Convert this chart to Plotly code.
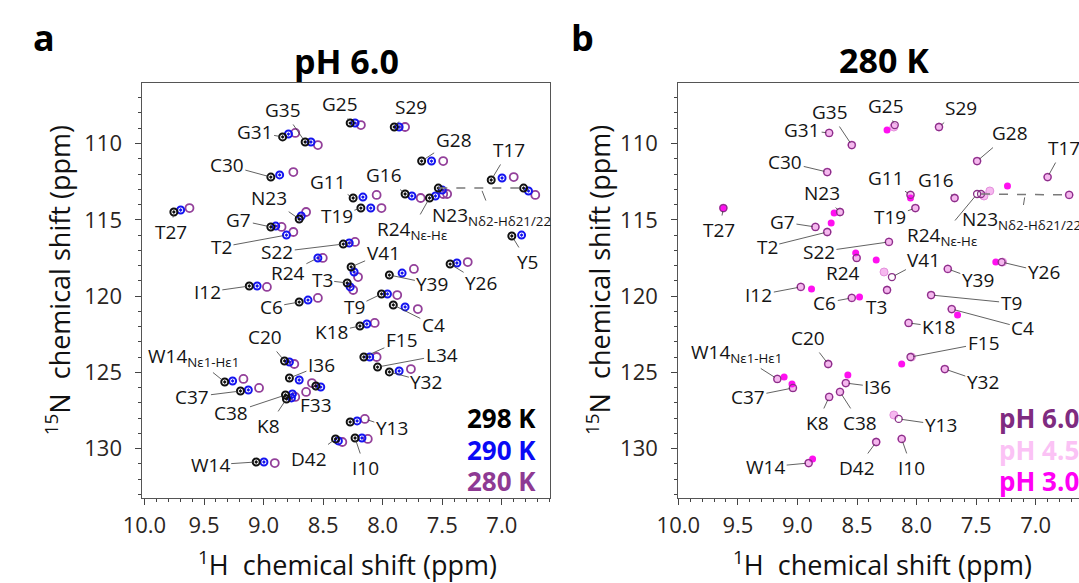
import plotly.graph_objects as go

W, H = 1079, 583

# ---- peak assignments (1H ppm, 15N ppm) ----
residues = ["T2", "T3", "C4", "Y5", "C6", "G7", "K8", "T9", "I10", "G11",
            "I12", "Y13", "W14", "W14e", "F15", "G16", "T17", "K18", "T19", "C20",
            "S22", "N23", "N23d1", "N23d2", "R24", "R24e", "G25", "Y26", "T27", "G28",
            "S29", "C30", "G31", "Y32", "F33", "L34", "G35", "I36", "C37", "C38",
            "Y39", "V41", "D42"]

# pH 6.0, 298 K
h_298 = [None, 8.298, 7.911, 6.916, 8.701, 8.939, 8.808, 8.010, 8.232, 8.248,
         9.120, 8.273, 9.062, 9.326, 8.158, 7.812, 7.089, 8.191, 8.183, 8.824,
         8.331, 8.701, 7.533, 6.817, None, 7.607, 8.273, 7.434, 9.753, 7.673,
         7.903, 8.939, 8.840, 7.944, 8.561, 8.043, 8.651, 8.783, 9.194, 8.816,
         7.944, 8.265, 8.396]
n_298 = [None, 119.14, 120.58, 116.06, 120.39, 115.47, 126.74, 119.86, 129.30, 113.57,
         119.34, 128.25, 130.87, 125.63, 123.99, 113.31, 112.39, 121.96, 114.23, 124.25,
         116.59, 114.95, 112.92, 112.92, None, 113.57, 108.66, 117.90, 114.49, 111.15,
         108.92, 112.20, 109.57, 124.97, 125.89, 124.65, 109.90, 125.37, 126.22, 126.48,
         118.62, 118.09, 129.36]

# pH 6.0, 290 K
h_290 = [8.808, 8.273, 7.812, 6.834, 8.627, 8.898, 8.766, 7.960, 8.174, 8.166,
         9.054, 8.215, 8.997, 9.260, 8.109, 7.755, 6.998, 8.133, 8.100, 8.783,
         8.281, 8.684, 7.500, 6.776, 8.544, 7.557, 8.232, 7.377, 9.696, 7.590,
         7.862, 8.865, 8.791, 7.862, 8.520, None, 8.602, 8.701, 9.128, 8.758,
         7.837, 8.240, 8.372]
n_290 = [116.00, 119.40, 120.71, 116.00, 120.26, 115.41, 126.67, 119.86, 129.30, 113.51,
         119.34, 128.18, 130.87, 125.56, 123.99, 113.44, 112.26, 121.83, 114.23, 124.32,
         116.52, 114.75, 113.05, 113.11, 117.50, 113.44, 108.66, 117.83, 114.36, 111.15,
         108.92, 112.06, 109.38, 124.91, 125.96, None, 109.90, 125.50, 126.15, 126.41,
         118.49, 118.42, 129.49]

# pH 6.0, 280 K
h_280 = [8.750, 8.248, 7.705, None, 8.544, 8.849, 8.734, 7.878, 8.125, 8.051,
         8.972, 8.150, 8.906, 9.169, 8.051, 7.681, 6.900, 8.067, 8.010, 8.742,
         8.232, 8.643, 7.459, 6.719, 8.503, 7.492, 8.183, 7.286, 9.622, 7.492,
         7.812, 8.750, 8.734, 7.763, None, None, 8.544, 8.594, 9.038, 8.643,
         7.738, 8.207, 8.339]
n_280 = [115.80, 119.60, 120.85, None, 120.12, 115.47, 126.61, 119.93, 129.36, 113.37,
         119.40, 128.05, 130.94, 125.43, 123.99, 113.57, 112.20, 121.76, 114.23, 124.45,
         116.45, 114.49, 113.31, 113.37, 117.50, 113.31, 108.79, 117.77, 114.23, 111.15,
         108.92, 111.87, 109.31, 124.78, None, None, 110.10, 125.70, 126.02, 126.28,
         118.22, 118.75, 129.56]

# 280 K, pH 6.0 is the same spectrum as the 280 K set above
h_ph60, n_ph60 = h_280, n_280

# 280 K, pH 4.5
h_ph45 = [8.750, 8.248, 7.705, None, 8.544, 8.849, 8.734, 7.878, 8.125, 8.051,
          8.972, 8.191, 8.906, 9.169, 8.043, 7.681, 6.900, 8.067, 8.010, 8.742,
          8.232, 8.643, 7.434, 6.719, 8.503, 7.385, 8.191, 7.278, 9.622, 7.492,
          7.812, 8.750, 8.734, 7.763, None, None, 8.544, 8.594, 9.038, 8.643,
          7.738, 8.273, 8.339]
n_ph45 = [115.80, 119.60, 120.85, None, 120.12, 115.47, 126.61, 119.93, 129.36, 113.37,
          119.40, 127.79, 130.94, 125.43, 123.99, 113.57, 112.20, 121.76, 114.23, 124.45,
          116.45, 114.49, 113.44, 113.37, 117.50, 113.11, 108.92, 117.77, 114.23, 111.15,
          108.92, 111.87, 109.31, 124.78, None, None, 110.10, 125.70, 126.02, 126.28,
          118.22, 118.42, 129.56]

# 280 K, pH 3.0 (resolved peaks only)
h_ph30 = [8.717, None, 7.656, None, 8.479, None, None, None, None, 8.051,
          8.882, None, 8.873, 9.112, 8.125, None, None, None, None, None,
          None, 8.692, None, None, 8.511, 7.237, 8.248, 7.335, 9.622, None,
          None, None, None, None, None, None, None, 8.577, 9.046, None,
          None, 8.339, None]
n_ph30 = [115.21, None, 121.24, None, 120.06, None, None, None, None, 113.57,
          119.53, None, 130.67, 125.30, 124.45, None, None, None, None, None,
          None, 114.55, None, None, 117.17, 112.79, 109.12, 117.77, 114.23, None,
          None, None, None, None, None, None, None, 125.17, 125.76, None,
          None, 117.63, None]

x_ticks = [10.0, 9.5, 9.0, 8.5, 8.0, 7.5, 7.0]
x_tick_text = ["10.0", "9.5", "9.0", "8.5", "8.0", "7.5", "7.0"]
y_ticks = [110, 115, 120, 125, 130]

FONT = "Open Sans"
series = {
    "298": (h_298, n_298), "290": (h_290, n_290), "280": (h_280, n_280),
    "ph60": (h_ph60, n_ph60), "ph45": (h_ph45, n_ph45), "ph30": (h_ph30, n_ph30),
}
idx = {r: i for i, r in enumerate(residues)}


def peak(key, res):
    hs, ns = series[key]
    return hs[idx[res]], ns[idx[res]]


fig = go.Figure()

# panel a: temperature series
for key, col, sym, size, lw in [("280", "#93409a", "circle-open", 8, 1.8),
                                 ("290", "#1414f0", "circle-open-dot", 7, 2.0),
                                 ("298", "#111111", "circle-open-dot", 7, 2.0)]:
    hs, ns = series[key]
    fig.add_trace(go.Scatter(x=hs, y=ns, mode="markers", xaxis="x", yaxis="y",
                             marker=dict(symbol=sym, size=size, color=col,
                                         line=dict(width=lw, color=col)),
                             showlegend=False, hoverinfo="skip"))

# panel b: pH series at 280 K
fig.add_trace(go.Scatter(x=h_ph45, y=n_ph45, mode="markers", xaxis="x2", yaxis="y2",
                         marker=dict(symbol="circle", size=8, color="#f6b8ef",
                                     line=dict(width=1, color="#e48fdc")),
                         showlegend=False, hoverinfo="skip"))
fig.add_trace(go.Scatter(x=h_ph30, y=n_ph30, mode="markers", xaxis="x2", yaxis="y2",
                         marker=dict(symbol="circle", size=7, color="#ff10f0",
                                     line=dict(width=0)),
                         showlegend=False, hoverinfo="skip"))
fig.add_trace(go.Scatter(x=h_ph60, y=n_ph60, mode="markers", xaxis="x2", yaxis="y2",
                         marker=dict(symbol="circle-open", size=7, color="#8a3088",
                                     line=dict(width=1.3, color="#8a3088")),
                         showlegend=False, hoverinfo="skip"))

# Asn23 side-chain NH2 pairs joined by a dashed line
shapes = []
for key, xr, yr in [("298", "x", "y"), ("ph60", "x2", "y2")]:
    x0, y0 = peak(key, "N23d1")
    x1, y1 = peak(key, "N23d2")
    shapes.append(dict(type="line", xref=xr, yref=yr, x0=x0, y0=y0, x1=x1, y1=y1,
                       line=dict(color="#7a7a7a", width=1.5, dash="dash")))

SC23 = "N23<sub>Nδ2-Hδ21/22</sub>"
# (label, residue, series, dx, dy) -- label offset in pixels from the peak
labels_a = [
    ("G35", "G35", "298", -22, -32), ("G25", "G25", "298", -10, -19),
    ("S29", "S29", "298", 17, -20), ("G31", "G31", "298", -28, -5),
    ("C30", "C30", "298", -44, -12), ("G11", "G11", "298", -25, -16),
    ("G16", "G16", "298", -21, -19), ("R24<sub>Nε-Hε</sub>", "R24e", "298", -18, 32),
    (SC23, "N23sc", "298", 11, 28), ("T27", "T27", "298", -3, 20),
    ("N23", "N23", "298", -30, -21), ("G7", "G7", "298", -32, -7),
    ("T19", "T19", "298", -24, 8), ("T2", "T2", "290", -65, 12),
    ("S22", "S22", "298", -66, 8), ("R24", "R24", "290", -30, 15),
    ("V41", "V41", "298", 32, -14), ("T3", "T3", "298", -25, -3),
    ("Y39", "Y39", "298", 43, 9), ("I12", "I12", "298", -42, 6),
    ("C6", "C6", "298", -28, 5), ("T9", "T9", "298", -27, 13),
    ("C4", "C4", "298", 40, 20), ("K18", "K18", "298", -28, 6),
    ("F15", "F15", "298", 38, -17), ("L34", "L34", "298", 64, -12),
    ("Y32", "Y32", "298", 37, 10), ("Y26", "Y26", "298", 31, 19),
    ("Y5", "Y5", "298", 16, 26), ("T17", "T17", "298", 18, -30),
    ("G28", "G28", "298", 32, -21), ("C20", "C20", "298", -20, -24),
    ("I36", "I36", "298", 32, -13), ("W14<sub>Nε1-Hε1</sub>", "W14e", "298", -31, -25),
    ("C37", "C37", "298", -48, 6), ("C38", "C38", "298", -54, 18),
    ("K8", "K8", "298", -18, 27), ("F33", "F33", "298", 0, 19),
    ("Y13", "Y13", "280", 27, 9), ("D42", "D42", "298", -27, 20),
    ("I10", "I10", "298", 10, 30), ("W14", "W14", "298", -46, 3),
]
labels_b = [
    ("G35", "G35", -22, -33), ("G31", "G31", -27, -3), ("C30", "C30", -42, -10),
    ("N23", "N23", -18, -19), ("T27", "T27", -4, 22), ("G7", "G7", -33, -5),
    ("T2", "T2", -60, 15), ("S22", "S22", -70, 10), ("R24", "R24", -14, 15),
    ("G25", "G25", -9, -19), ("S29", "S29", 22, -19), ("G28", "G28", 33, -28),
    ("T17", "T17", 16, -29), ("G11", "G11", -25, -17), ("G16", "G16", -19, -18),
    ("T19", "T19", -25, 9), ("R24<sub>Nε-Hε</sub>", "R24e", -35, 42),
    (SC23, "N23sc", -4, 26), ("V41", "V41", 32, -17), ("Y26", "Y26", 42, 10),
    ("Y39", "Y39", 30, 11), ("T3", "T3", -11, 17), ("C6", "C6", -27, 5),
    ("T9", "T9", 80, 8), ("C4", "C4", 71, 19), ("K18", "K18", 30, 4),
    ("F15", "F15", 73, -14), ("Y32", "Y32", 38, 13), ("I36", "I36", 32, 4),
    ("C38", "C38", 20, 31), ("K8", "K8", -12, 26), ("Y13", "Y13", 42, 6),
    ("I10", "I10", 10, 29), ("D42", "D42", -19, 26), ("W14", "W14", -43, 4),
    ("C37", "C37", -45, 9), ("W14<sub>Nε1-Hε1</sub>", "W14e", -41, -26),
    ("C20", "C20", -20, -26), ("I12", "I12", -42, 8),
]

annotations = []


def anchor(key, res):
    if res == "N23sc":
        x0, y0 = peak(key, "N23d1")
        x1, y1 = peak(key, "N23d2")
        return (x0 + x1) / 2, (y0 + y1) / 2
    return peak(key, res)


def add_label(text, key, res, dx, dy, xr, yr):
    x, y = anchor(key, res)
    annotations.append(dict(text=text, x=x, y=y, xref=xr, yref=yr, ax=dx, ay=dy,
                            axref="pixel", ayref="pixel", showarrow=True,
                            arrowhead=0, arrowwidth=0.8, arrowcolor="#3a3a3a",
                            standoff=3, font=dict(family=FONT, size=19, color="#141414")))


for text, res, key, dx, dy in labels_a:
    add_label(text, key, res, dx, dy, "x", "y")
for text, res, dx, dy in labels_b:
    add_label(text, "ph60", res, dx, dy, "x2", "y2")


def px(x):
    return x / W


def py(y):
    return 1 - y / H


def text_at(text, x, y, size, color="#000", bold=False, xanchor="center", angle=0):
    annotations.append(dict(text=f"<b>{text}</b>" if bold else text, x=px(x), y=py(y),
                            xref="paper", yref="paper", showarrow=False,
                            xanchor=xanchor, yanchor="middle", textangle=angle,
                            font=dict(family=FONT, size=size, color=color)))


text_at("a", 22, 37, 36, bold=True)
text_at("b", 572, 37, 36, bold=True)
text_at("pH 6.0", 331, 61, 34, bold=True)
text_at("280 K", 880, 60, 34, bold=True)
for x0 in (332, 878):
    text_at("<sup>1</sup>H  chemical shift (ppm)", x0, 563, 27, color="#111")
text_at("<sup>15</sup>N  chemical shift (ppm)", 37, 280, 27, color="#111", angle=-90)
text_at("<sup>15</sup>N  chemical shift (ppm)", 589, 280, 27, color="#111", angle=-90)

text_at("298 K", 527, 418, 26, "#000000", True, "right")
text_at("290 K", 527, 450, 26, "#0a0af5", True, "right")
text_at("280 K", 527, 481, 26, "#8e3a93", True, "right")
text_at("pH 6.0", 995, 418, 26, "#7f2b80", True, "left")
text_at("pH 4.5", 995, 450, 26, "#fbc2f5", True, "left")
text_at("pH 3.0", 995, 481, 26, "#ff00f5", True, "left")

TOP, BOTTOM = 83, 498
ydom = [py(BOTTOM), py(TOP)]
N_PER_PX = 1 / 15.26
H_PER_PX = 1 / 121.6
y_range = [110 + (BOTTOM - 143.5) * N_PER_PX, 110 - (143.5 - TOP) * N_PER_PX]

tickfont = dict(family=FONT, size=22, color="#2b2522")
common_x = dict(tickmode="array", tickvals=x_ticks, ticktext=x_tick_text,
                ticks="outside", ticklen=6, tickwidth=1, tickcolor="#444",
                minor=dict(dtick=0.1, ticks="outside", ticklen=3, tickcolor="#444"),
                showline=True, linecolor="#555", linewidth=1.2, mirror=True,
                showgrid=False, zeroline=False, tickfont=tickfont, ticklabelstandoff=1)
common_y = dict(tickmode="array", tickvals=y_ticks, range=y_range, domain=ydom,
                ticks="outside", ticklen=6, tickwidth=1, tickcolor="#444",
                minor=dict(dtick=1, ticks="outside", ticklen=3, tickcolor="#444"),
                showline=True, linecolor="#555", linewidth=1.2,
                showgrid=False, zeroline=False, tickfont=tickfont, ticklabelstandoff=9)

fig.update_layout(
    width=W, height=H, margin=dict(l=0, r=0, t=0, b=0),
    paper_bgcolor="white", plot_bgcolor="white",
    xaxis=dict(common_x, domain=[px(123), px(539)],
               range=[10.0 + 2 * H_PER_PX, 10.0 - 414 * H_PER_PX], anchor="y"),
    yaxis=dict(common_y, mirror=True, anchor="x"),
    xaxis2=dict(common_x, domain=[px(670), 1.0],
                range=[10.0, 10.0 - 409 * H_PER_PX], anchor="y2"),
    yaxis2=dict(common_y, mirror=False, anchor="x2"),
    shapes=shapes, annotations=annotations,
)

fig.write_html("out.html")
